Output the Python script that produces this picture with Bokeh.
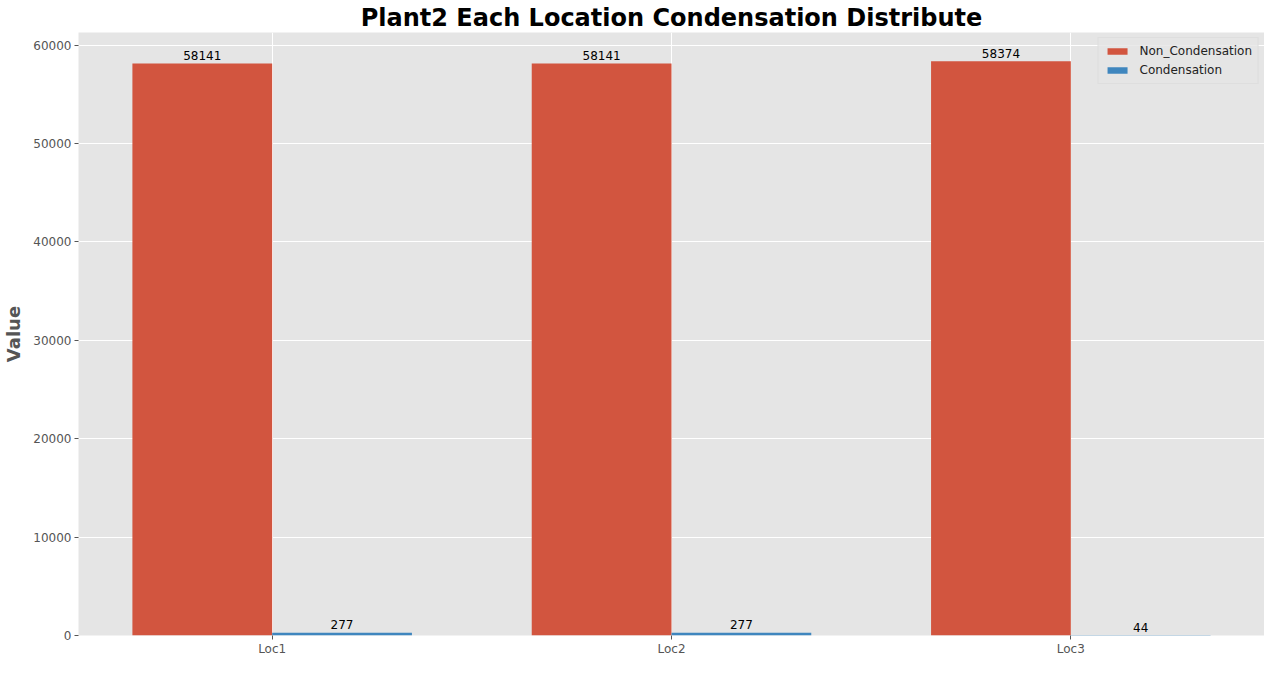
from bokeh.plotting import figure
from bokeh.models import ColumnDataSource, FactorRange, Range1d, FixedTicker
from bokeh.transform import dodge
from bokeh.core.properties import value
from bokeh.embed import file_html
from bokeh.resources import INLINE

# ---- data ----
locations = ["Loc1", "Loc2", "Loc3"]
non_condensation = [58141, 58141, 58374]
condensation = [277, 277, 44]
series_names = ["Non_Condensation", "Condensation"]
y_ticks = [0, 10000, 20000, 30000, 40000, 50000, 60000]

RED = "#D2553F"
BLUE = "#3F86BE"
FONT = "DejaVu Sans"

src = ColumnDataSource(dict(
    loc=locations,
    non=non_condensation,
    con=condensation,
    non_lbl=[str(v) for v in non_condensation],
    con_lbl=[str(v) for v in condensation],
))

p = figure(
    x_range=FactorRange(factors=locations, range_padding=-0.01),
    y_range=Range1d(0, max(non_condensation) * 1.05),
    width=1264, height=658,
    output_backend="svg", toolbar_location=None,
    title="Plant2 Each Location Condensation Distribute",
    min_border=0,
    min_border_left=60, min_border_right=0, min_border_top=0, min_border_bottom=0,
)

p.background_fill_color = "#E5E5E5"
p.border_fill_color = "white"
p.outline_line_color = None

p.title.text_font = FONT
p.title.text_font_size = "24px"
p.title.text_font_style = "bold"
p.title.text_color = "black"
p.title.align = "center"
p.title.standoff = 2
p.title.text_line_height = 1.0

bw = 0.35
p.vbar(x=dodge("loc", -bw / 2, range=p.x_range), top="non", width=bw, source=src,
       fill_color=RED, line_color=None, legend_label=series_names[0])
p.vbar(x=dodge("loc", bw / 2, range=p.x_range), top="con", width=bw, source=src,
       fill_color=BLUE, line_color=None, legend_label=series_names[1])

for xoff, col, lbl in ((-bw / 2, "non", "non_lbl"), (bw / 2, "con", "con_lbl")):
    p.text(x=dodge("loc", xoff, range=p.x_range), y=col, text=lbl, source=src,
           text_align="center", text_baseline="alphabetic", y_offset=-8,
           text_font=value(FONT), text_font_size="12px", text_color="black")

# grids
p.xgrid.grid_line_color = "white"
p.ygrid.grid_line_color = "white"
p.xgrid.grid_line_width = 1
p.ygrid.grid_line_width = 1
p.yaxis.ticker = FixedTicker(ticks=y_ticks)

for ax in (p.xaxis[0], p.yaxis[0]):
    ax.axis_line_color = None
    ax.major_tick_in = 0
    ax.major_tick_out = 4
    ax.major_tick_line_color = "#555555"
    ax.minor_tick_line_color = None
    ax.major_label_text_font = FONT
    ax.major_label_text_font_size = "12px"
    ax.major_label_text_color = "#555555"
    ax.major_label_standoff = 3
    ax.major_label_text_line_height = 1.0

p.xaxis.axis_label = None
p.xaxis.axis_label_standoff = 0
p.xaxis.major_label_standoff = 2

p.yaxis.axis_label = "Value"
p.yaxis.axis_label_text_font = FONT
p.yaxis.axis_label_text_font_size = "18px"
p.yaxis.axis_label_text_font_style = "bold"
p.yaxis.axis_label_text_color = "#555555"
p.yaxis.axis_label_standoff = 6

leg = p.legend[0]
leg.location = "top_right"
leg.background_fill_color = "#E5E5E5"
leg.background_fill_alpha = 0.8
leg.border_line_color = "#D8D8D8"
leg.label_text_font = FONT
leg.label_text_font_size = "12px"
leg.label_text_color = "#222222"
leg.glyph_width = 25
leg.glyph_height = 8
leg.label_height = 12
leg.label_standoff = 10
leg.spacing = 5
leg.padding = 6
leg.margin = 5

open("out.html", "w").write(file_html(p, INLINE))
